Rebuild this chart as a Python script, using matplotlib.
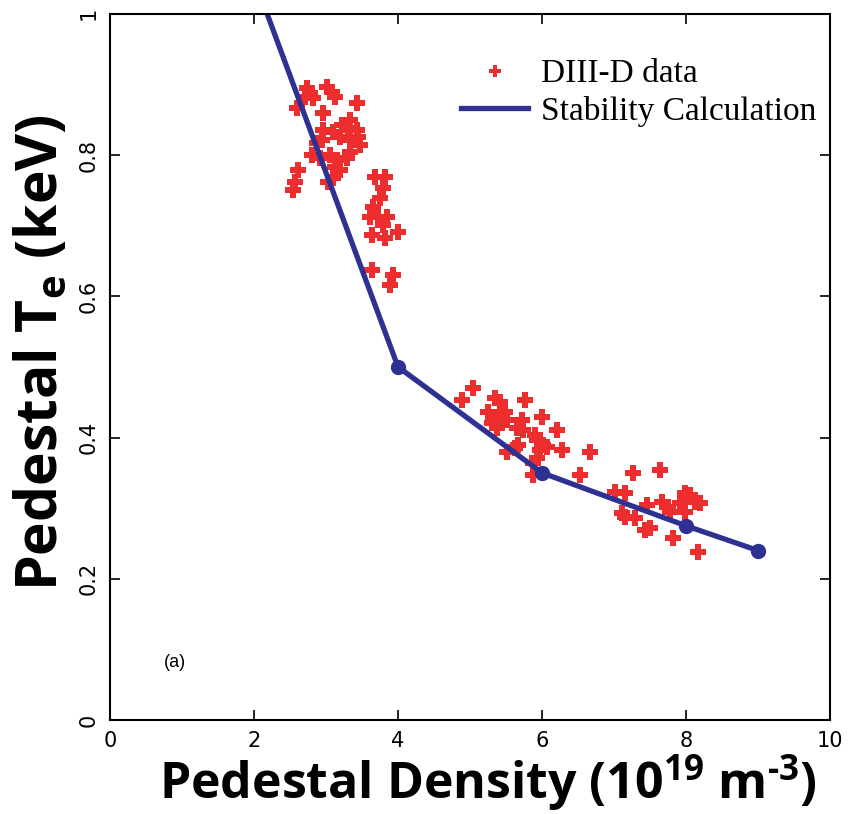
import matplotlib
matplotlib.use("Agg")
import matplotlib.pyplot as plt

plt.rcParams["mathtext.fontset"] = "custom"
plt.rcParams["mathtext.rm"] = "Open Sans:bold"
plt.rcParams["mathtext.bf"] = "Open Sans:bold"

# DIII-D measured pedestal points
data_n = [2.74, 2.78, 2.82, 2.71, 3.01, 3.08, 3.13, 2.60, 3.43, 2.96,
          3.33, 3.22, 3.31, 3.43, 3.44, 3.47, 3.33, 3.19, 3.10, 2.96,
          2.94, 2.88, 2.81, 2.92, 3.06, 3.15, 3.29, 3.33, 3.19, 3.10,
          3.03, 3.13, 2.61, 2.57, 2.54, 3.68, 3.82, 3.79, 3.75, 3.65,
          3.61, 3.72, 3.85, 3.79, 3.64, 3.82, 4.00, 3.64, 3.93, 3.89,
          4.89, 5.04, 5.35, 5.42, 5.76, 5.25, 5.35, 5.42, 5.31, 5.38,
          5.49, 5.51, 5.72, 5.65, 5.74, 6.00, 6.21, 5.90, 5.93, 6.01,
          6.07, 5.97, 5.67, 5.51, 5.63, 6.28, 6.67, 5.93, 5.88, 5.88,
          6.53, 7.26, 7.64, 7.01, 7.15, 7.11, 7.15, 7.29, 7.46, 7.50,
          7.43, 7.67, 7.75, 7.78, 7.99, 8.06, 7.92, 7.99, 8.13, 8.19,
          7.82, 8.17]
data_te = [0.895, 0.888, 0.881, 0.882, 0.897, 0.890, 0.882, 0.867, 0.874, 0.860,
           0.850, 0.843, 0.839, 0.836, 0.826, 0.814, 0.822, 0.826, 0.833, 0.836,
           0.822, 0.817, 0.800, 0.796, 0.800, 0.793, 0.796, 0.805, 0.779, 0.768,
           0.762, 0.783, 0.779, 0.762, 0.751, 0.769, 0.769, 0.754, 0.739, 0.727,
           0.712, 0.712, 0.712, 0.701, 0.687, 0.683, 0.691, 0.637, 0.630, 0.616,
           0.453, 0.470, 0.456, 0.450, 0.453, 0.436, 0.429, 0.422, 0.421, 0.414,
           0.436, 0.425, 0.425, 0.414, 0.411, 0.429, 0.411, 0.404, 0.397, 0.390,
           0.387, 0.382, 0.390, 0.380, 0.385, 0.382, 0.380, 0.371, 0.364, 0.347,
           0.347, 0.350, 0.354, 0.323, 0.322, 0.293, 0.288, 0.286, 0.305, 0.272,
           0.269, 0.309, 0.302, 0.295, 0.322, 0.319, 0.307, 0.295, 0.309, 0.307,
           0.258, 0.238]

# stability calculation
calc_n = [2.0, 4.0, 6.0, 8.0, 9.0]
calc_te = [1.05, 0.50, 0.35, 0.275, 0.24]

fig = plt.figure(figsize=(8.53, 8.14), dpi=100)
ax = fig.add_axes([0.129, 0.1155, 0.844, 0.8675])

red = "#ee2e2e"
blue = "#2e3192"

ax.plot(data_n, data_te, linestyle="none", marker="P", markersize=12,
        color=red, markeredgewidth=0, label="DIII-D data")
ax.plot(calc_n, calc_te, color=blue, lw=3.8, label="Stability Calculation")
ax.plot(calc_n[1:], calc_te[1:], linestyle="none", marker="o", markersize=10,
        color=blue)

ax.set_xlim(0, 10)
ax.set_ylim(0, 1)
ax.set_xticks([0, 2, 4, 6, 8, 10])
ax.set_yticks([0, 0.2, 0.4, 0.6, 0.8, 1])
ax.set_yticklabels(["0", "0.2", "0.4", "0.6", "0.8", "1"], rotation=90, va="center")
ax.tick_params(direction="in", top=True, right=True, length=7, width=1.2,
               labelsize=15, pad=8)
for lab in ax.get_xticklabels() + ax.get_yticklabels():
    lab.set_family(["Liberation Sans Narrow", "DejaVu Sans"])
for s in ax.spines.values():
    s.set_linewidth(1.5)

ax.set_xlabel(r"Pedestal Density (10$^{19}$ m$^{\text{-}3}$)",
              fontsize=36, fontweight="bold", family="Open Sans", labelpad=1, x=0.525)
ax.set_ylabel(r"Pedestal T$_{\text{e}}$ (keV)",
              fontsize=41, fontweight="bold", family="Open Sans", labelpad=6, y=0.52)

ax.text(0.75, 0.075, "(a)", fontsize=13, family="Liberation Sans")

leg = ax.legend(loc="upper right", frameon=False,
                prop={"family": "Liberation Serif", "size": 24},
                handlelength=2.0, borderaxespad=0, bbox_to_anchor=(1.0, 0.955),
                labelspacing=0.2, handletextpad=0.4)
leg.legend_handles[0].set_markersize(9)

fig.savefig("out.png", dpi=100)
